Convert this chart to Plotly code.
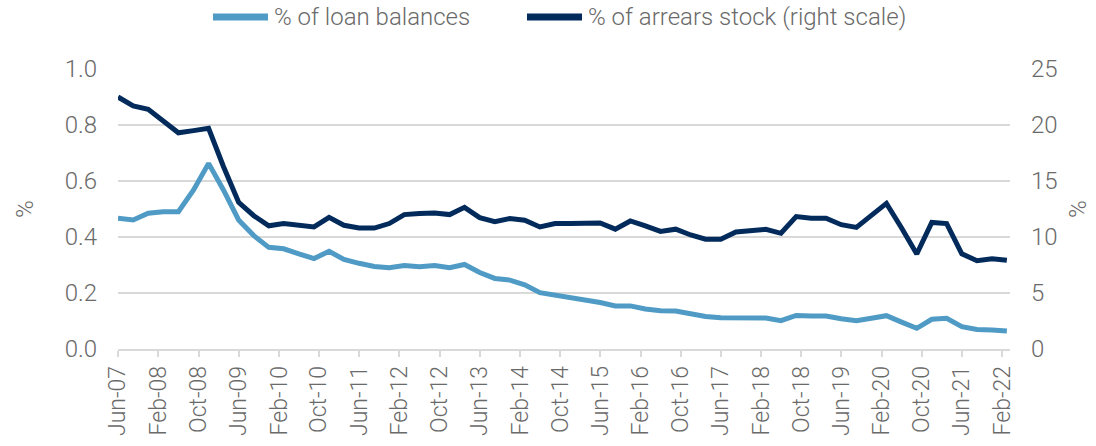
import pandas as pd
import plotly.graph_objects as go

# Quarterly observations, Jun-07 .. Mar-22
start = "2007-06-01"
n_points = 60
dates = pd.date_range(start, periods=n_points, freq="3MS")

loan_balances = [
    0.467, 0.461, 0.485, 0.490, 0.490, 0.568, 0.663, 0.568, 0.461, 0.405,
    0.363, 0.358, 0.340, 0.323, 0.349, 0.320, 0.306, 0.295, 0.290, 0.298,
    0.294, 0.298, 0.290, 0.302, 0.273, 0.252, 0.246, 0.229, 0.201, 0.193,
    0.181, 0.173, 0.166, 0.154, 0.154, 0.143, 0.137, 0.136, 0.125, 0.116,
    0.112, 0.113, 0.112, 0.111, 0.101, 0.120, 0.118, 0.118, 0.108, 0.101,
    0.110, 0.119, 0.096, 0.074, 0.106, 0.110, 0.080, 0.070, 0.068, 0.064,
]

arrears_stock = [
    22.5, 21.7, 21.4, 20.4, 19.3, 19.5, 19.7, 16.3, 13.1, 11.9,
    11.0, 11.2, 11.0, 10.9, 11.75, 11.05, 10.8, 10.8, 11.2, 12.0,
    12.1, 12.15, 12.0, 12.65, 11.73, 11.37, 11.65, 11.5, 10.9, 11.2,
    11.2, 11.2, 11.25, 10.7, 11.43, 11.0, 10.5, 10.7, 10.18, 9.8,
    9.8, 10.45, 10.55, 10.68, 10.33, 11.82, 11.67, 11.67, 11.1, 10.86,
    11.93, 13.0, 10.8, 8.48, 11.3, 11.2, 8.5, 7.88, 8.06, 7.92,
]

series_names = ["% of loan balances", "% of arrears stock (right scale)"]
tick_dates = pd.date_range("2007-06-01", "2022-02-01", freq="8MS")
tick_labels = [d.strftime("%b-%y") for d in tick_dates]
left_ticks = [0.0, 0.2, 0.4, 0.6, 0.8, 1.0]
right_ticks = [0, 5, 10, 15, 20, 25]

LIGHT = "#4F9BC5"
DARK = "#022B5C"
colors = [LIGHT, DARK]
TXT = "#6A6A6A"
GRID = "#D9D9D9"
FONT = "Roboto"
FS = 24

W, H = 1096, 446
ML, MR, MT, MB = 118, 86, 69, 97
PW, PH = W - ML - MR, H - MT - MB


def px_x(px):
    return (px - ML) / PW


def px_y(py):
    return (H - MB - py) / PH


fig = go.Figure()
fig.add_trace(go.Scatter(
    x=dates, y=loan_balances, name=series_names[0], mode="lines",
    line=dict(color=LIGHT, width=5), yaxis="y", showlegend=False,
))
fig.add_trace(go.Scatter(
    x=dates, y=arrears_stock, name=series_names[1], mode="lines",
    line=dict(color=DARK, width=5), yaxis="y2", showlegend=False,
))

# Legend drawn manually (longer line keys as in the reference)
legend_keys = [(213, 268, 272), (527, 582, 586)]
legend_y = 17
for (k0, k1, tx), name, col in zip(legend_keys, series_names, colors):
    fig.add_shape(type="line", xref="paper", yref="paper",
                  x0=px_x(k0), x1=px_x(k1), y0=px_y(legend_y), y1=px_y(legend_y),
                  line=dict(color=col, width=7))
    fig.add_annotation(xref="paper", yref="paper", x=px_x(tx), y=px_y(legend_y),
                       xanchor="left", yanchor="middle", text=name, showarrow=False,
                       font=dict(family=FONT, size=FS, color=TXT, weight=300))

fig.update_layout(
    width=W, height=H,
    margin=dict(l=ML, r=MR, t=MT, b=MB),
    paper_bgcolor="white", plot_bgcolor="white",
    font=dict(family=FONT, color=TXT, size=FS, weight=300),
    showlegend=False,
    xaxis=dict(
        type="date", automargin=False,
        range=["2007-06-01", "2022-03-20"],
        tickvals=tick_dates, ticktext=tick_labels, tickangle=-90,
        showgrid=False, showline=True, linecolor=GRID, linewidth=1.5,
        ticks="outside", tickcolor=GRID, ticklen=6, tickwidth=1.5,
        tickfont=dict(family=FONT, size=23, color=TXT, weight=300),
        zeroline=False,
    ),
    yaxis=dict(
        range=[0, 1.0], tickvals=left_ticks, tickformat=".1f", automargin=False,
        showgrid=True, gridcolor=GRID, gridwidth=1.5, zeroline=False,
        showline=False, ticks="", ticklabelstandoff=20,
        tickfont=dict(family=FONT, size=FS, color=TXT, weight=300),
        title=dict(text="%", standoff=24, font=dict(family=FONT, size=FS, color=TXT, weight=300)),
    ),
    yaxis2=dict(
        range=[0, 25], tickvals=right_ticks, overlaying="y", side="right",
        automargin=False,
        showgrid=False, zeroline=False, showline=False, ticks="",
        ticklabelstandoff=20,
        tickfont=dict(family=FONT, size=FS, color=TXT, weight=300),
        title=dict(text="%", standoff=12, font=dict(family=FONT, size=FS, color=TXT, weight=300)),
    ),
)

fig.write_html("out.html")
